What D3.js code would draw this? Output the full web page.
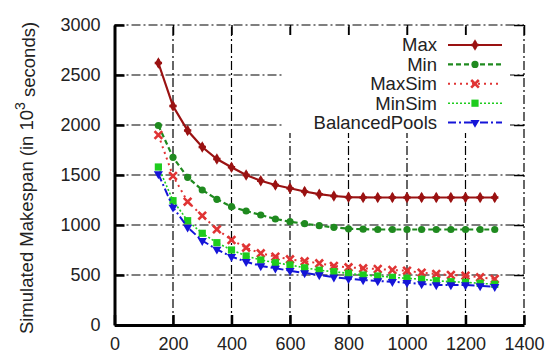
<!DOCTYPE html>
<html>
<head>
<meta charset="utf-8">
<script src="https://cdn.jsdelivr.net/npm/d3@7"></script>
<style>
  body { margin: 0; background: #fff; }
  text { font-family: "Liberation Sans", Arial, sans-serif; fill: #222; }
</style>
</head>
<body>
<div class="chart"></div>
<script>
// pool sizes on the x axis
const poolSizes = [150, 200, 250, 300, 350, 400, 450, 500, 550, 600, 650, 700,
  750, 800, 850, 900, 950, 1000, 1050, 1100, 1150, 1200, 1250, 1300]

const maxSpan = [2620, 2190, 1945, 1780, 1660, 1578, 1500, 1443, 1400, 1367, 1335, 1308,
  1290, 1278, 1276, 1275, 1275, 1275, 1275, 1275, 1275, 1275, 1275, 1275]
const minSpan = [1995, 1677, 1477, 1350, 1257, 1183, 1140, 1100, 1060, 1033, 1013, 993,
  977, 962, 958, 955, 955, 955, 955, 955, 955, 955, 955, 955]
const maxSimSpan = [1900, 1490, 1233, 1093, 957, 850, 773, 717, 683, 657, 637, 617,
  590, 577, 567, 560, 550, 543, 523, 510, 500, 493, 477, 460]
const minSimSpan = [1580, 1243, 1043, 917, 823, 750, 690, 650, 623, 600, 572, 548,
  533, 517, 500, 490, 477, 467, 457, 443, 433, 427, 417, 407]
const balancedSpan = [1510, 1177, 977, 843, 757, 683, 633, 590, 567, 543, 520, 500,
  478, 462, 450, 440, 433, 423, 410, 400, 400, 400, 390, 383]

const seriesNames = ["Max", "Min", "MaxSim", "MinSim", "BalancedPools"]
const xTicks = [0, 200, 400, 600, 800, 1000, 1200, 1400]
const yTicks = [0, 500, 1000, 1500, 2000, 2500, 3000]

const series = [
  {name: seriesNames[0], values: maxSpan, color: "#9a1212", dash: null, width: 2.2, shape: "star"},
  {name: seriesNames[1], values: minSpan, color: "#1f8a1f", dash: "5,3", width: 2.2, shape: "circle"},
  {name: seriesNames[2], values: maxSimSpan, color: "#e03434", dash: "2,4", width: 2, shape: "x"},
  {name: seriesNames[3], values: minSimSpan, color: "#1ecc1e", dash: "2,2", width: 1.6, shape: "square"},
  {name: seriesNames[4], values: balancedSpan, color: "#1515d8", dash: "8,3,2,3", width: 2, shape: "tri"}
]

const W = 549, H = 353
const svg = d3.select(".chart").append("svg").attr("width", W).attr("height", H)

const x = d3.scaleLinear().domain([0, 1400]).range([114.5, 524])
const y = d3.scaleLinear().domain([0, 3000]).range([325, 25])

// grid (dash-dot)
const grid = svg.append("g").attr("stroke", "#000").attr("stroke-width", 1.2)
  .attr("stroke-dasharray", "9,3,2,3").attr("fill", "none")
grid.selectAll(".gx").data(xTicks.slice(1)).enter().append("line")
  .attr("x1", d => x(d)).attr("x2", d => x(d)).attr("y1", y(0)).attr("y2", y(3000))
grid.selectAll(".gy").data(yTicks.slice(1)).enter().append("line")
  .attr("x1", x(0)).attr("x2", x(1400)).attr("y1", d => y(d)).attr("y2", d => y(d))

// legend background blanks the grid
svg.append("rect").attr("x", 283).attr("y", 35).attr("width", 227).attr("height", 98).attr("fill", "#fff")

// mirror ticks on top and right
svg.append("g").attr("transform", `translate(0,${y(3000)})`)
  .call(d3.axisTop(x).tickValues(xTicks).tickSizeInner(-10).tickSizeOuter(0).tickFormat(""))
  .call(g => g.select(".domain").remove())
  .selectAll("line").attr("stroke-width", 1.5)
svg.append("g").attr("transform", `translate(${x(1400)},0)`)
  .call(d3.axisRight(y).tickValues(yTicks).tickSizeInner(-10).tickSizeOuter(0).tickFormat(""))
  .call(g => g.select(".domain").remove())
  .selectAll("line").attr("stroke-width", 1.5)

// main axes
const xAxis = svg.append("g").attr("transform", `translate(0,${y(0)})`)
  .call(d3.axisBottom(x).tickValues(xTicks).tickSizeInner(-10).tickSizeOuter(0)
    .tickPadding(12).tickFormat(d3.format("d")))
xAxis.select(".domain").attr("stroke-width", 3)
xAxis.selectAll("line").attr("stroke-width", 2.5)
xAxis.selectAll("text").style("font-size", "18px").attr("fill", "#222")

const yAxis = svg.append("g").attr("transform", `translate(${x(0)},0)`)
  .call(d3.axisLeft(y).tickValues(yTicks).tickSizeInner(-10).tickSizeOuter(0)
    .tickPadding(14).tickFormat(d3.format("d")))
yAxis.select(".domain").attr("stroke-width", 3)
yAxis.selectAll("line").attr("stroke-width", 2.5)
yAxis.selectAll("text").style("font-size", "18px").attr("fill", "#222")

// y label with superscript
const ylab = svg.append("text").attr("transform", "translate(33,178) rotate(-90)")
  .attr("text-anchor", "middle").style("font-size", "18.5px")
ylab.append("tspan").text("Simulated Makespan (in 10")
ylab.append("tspan").attr("dy", "-0.55em").style("font-size", "14px").text("3")
ylab.append("tspan").attr("dy", "0.55em").text(" seconds)")

function drawMarker(g, shape, color) {
  if (shape === "circle") {
    g.append("circle").attr("r", 3.6).attr("fill", color)
  } else if (shape === "square") {
    g.append("rect").attr("x", -3.6).attr("y", -3.6).attr("width", 7.2).attr("height", 7.2).attr("fill", color)
  } else if (shape === "x") {
    g.append("path").attr("d", d3.symbol(d3.symbolX, 40)).attr("stroke", color).attr("stroke-width", 2.6)
  } else if (shape === "tri") {
    g.append("path").attr("d", d3.symbol(d3.symbolTriangle, 36)).attr("transform", "rotate(180)").attr("fill", color)
  } else {
    g.append("path").attr("d", d3.symbol(d3.symbolDiamond, 38)).attr("fill", color)
    g.append("path").attr("d", d3.symbol(d3.symbolCross, 30)).attr("fill", color)
  }
}

const line = d3.line().x((d, i) => x(poolSizes[i])).y(d => y(d))

series.forEach(s => {
  svg.append("path").datum(s.values).attr("d", line).attr("fill", "none")
    .attr("stroke", s.color).attr("stroke-width", s.width)
    .attr("stroke-dasharray", s.dash)
  svg.selectAll(null).data(s.values).enter().append("g")
    .attr("transform", (d, i) => `translate(${x(poolSizes[i])},${y(d)})`)
    .each(function() { drawMarker(d3.select(this), s.shape, s.color) })
})

// legend
const legend = svg.append("g")
series.forEach((s, i) => {
  const ly = 45 + i * 19.4
  legend.append("text").attr("x", 437).attr("y", ly).attr("dy", "0.35em")
    .attr("text-anchor", "end").style("font-size", "18.5px").text(s.name)
  legend.append("line").attr("x1", 448).attr("x2", 502).attr("y1", ly).attr("y2", ly)
    .attr("stroke", s.color).attr("stroke-width", s.width).attr("stroke-dasharray", s.dash)
  drawMarker(legend.append("g").attr("transform", `translate(475,${ly})`), s.shape, s.color)
})
</script>
</body>
</html>
